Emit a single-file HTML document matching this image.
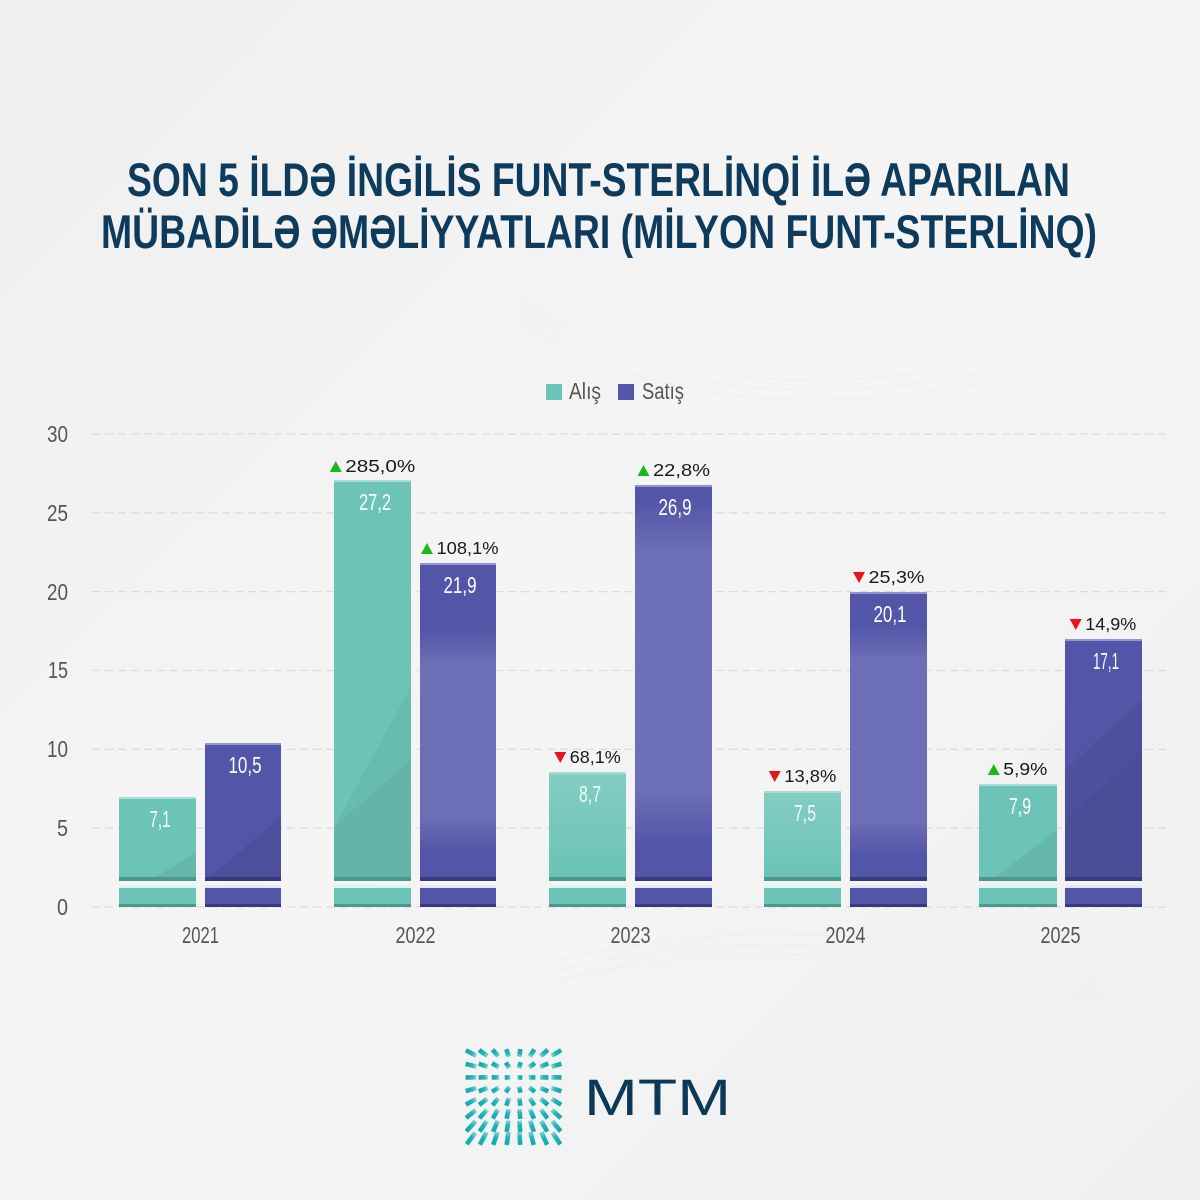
<!DOCTYPE html>
<html><head><meta charset="utf-8"><style>
html,body{margin:0;padding:0;background:#f2f2f2}
svg{display:block}
.ttl{font-family:"Liberation Sans Narrow","Liberation Sans",sans-serif;font-weight:bold;font-size:47px;fill:#0e3b5c}
.ax{font-family:"Liberation Sans Narrow","Liberation Sans",sans-serif;font-size:23px;fill:#555}
.val{font-family:"Liberation Sans Narrow","Liberation Sans",sans-serif;font-size:23px;fill:#fff;text-anchor:middle}
.pct{font-family:"Liberation Sans",sans-serif;font-size:17.5px;fill:#1a1a1a}
</style></head><body>
<svg width="1200" height="1200" viewBox="0 0 1200 1200" xmlns="http://www.w3.org/2000/svg">
<defs>
<linearGradient id="bg" x1="0" y1="0" x2="1" y2="1"><stop offset="0" stop-color="#efefef"/><stop offset="0.5" stop-color="#f5f5f5"/><stop offset="1" stop-color="#f0f0f0"/></linearGradient>
<linearGradient id="ph" x1="0" y1="0" x2="0" y2="1"><stop offset="0" stop-color="#9a9cd0" stop-opacity="0"/><stop offset="0.15" stop-color="#9a9cd0" stop-opacity="0.35"/><stop offset="0.85" stop-color="#9a9cd0" stop-opacity="0.35"/><stop offset="1" stop-color="#9a9cd0" stop-opacity="0"/></linearGradient>
<linearGradient id="pht" x1="0" y1="0" x2="0" y2="1"><stop offset="0" stop-color="#a8dcd5" stop-opacity="0.4"/><stop offset="1" stop-color="#a8dcd5" stop-opacity="0"/></linearGradient>
</defs>
<rect width="1200" height="1200" fill="url(#bg)"/>
<g stroke="#e6e8ea" stroke-width="1" fill="none" opacity="0.5">
<path d="M520 300 Q700 420 1000 360"/><path d="M520 310 Q700 430 1000 370"/><path d="M520 320 Q700 440 1000 380"/>
<path d="M560 960 Q800 900 1100 980"/><path d="M560 970 Q800 910 1100 990"/><path d="M560 980 Q800 920 1100 1000"/>
</g>

<text class="ttl" x="598.5" y="196" text-anchor="middle" textLength="943" lengthAdjust="spacingAndGlyphs">SON 5 İLDƏ İNGİLİS FUNT-STERLİNQİ İLƏ APARILAN</text>
<text class="ttl" x="599" y="248" text-anchor="middle" textLength="996" lengthAdjust="spacingAndGlyphs">MÜBADİLƏ ƏMƏLİYYATLARI (MİLYON FUNT-STERLİNQ)</text>

<rect x="546" y="384" width="16" height="16" fill="#6cc3b7"/>
<text class="ax" x="569" y="399" textLength="32" lengthAdjust="spacingAndGlyphs">Alış</text>
<rect x="618" y="384" width="16" height="16" fill="#5355a8"/>
<text class="ax" x="642" y="399" textLength="42" lengthAdjust="spacingAndGlyphs">Satış</text>

<g stroke="#dcdcdc" stroke-width="1.3" stroke-dasharray="8 5">
<line x1="92" y1="434" x2="1170" y2="434"/>
<line x1="92" y1="512.8" x2="1170" y2="512.8"/>
<line x1="92" y1="591.6" x2="1170" y2="591.6"/>
<line x1="92" y1="670.5" x2="1170" y2="670.5"/>
<line x1="92" y1="749.3" x2="1170" y2="749.3"/>
<line x1="92" y1="828.2" x2="1170" y2="828.2"/>
<line x1="92" y1="907" x2="1170" y2="907"/>
</g>
<text class="ax" x="68" y="442" text-anchor="end" textLength="21" lengthAdjust="spacingAndGlyphs">30</text>
<text class="ax" x="68" y="521" text-anchor="end" textLength="21" lengthAdjust="spacingAndGlyphs">25</text>
<text class="ax" x="68" y="600" text-anchor="end" textLength="21" lengthAdjust="spacingAndGlyphs">20</text>
<text class="ax" x="68" y="678" text-anchor="end" textLength="20" lengthAdjust="spacingAndGlyphs">15</text>
<text class="ax" x="68" y="757" text-anchor="end" textLength="21" lengthAdjust="spacingAndGlyphs">10</text>
<text class="ax" x="68" y="836" text-anchor="end" textLength="11" lengthAdjust="spacingAndGlyphs">5</text>
<text class="ax" x="68" y="915" text-anchor="end" textLength="11" lengthAdjust="spacingAndGlyphs">0</text>

<!-- 2021 -->
<g>
<rect x="119" y="797" width="77" height="84" fill="#6cc3b7"/>
<polygon points="150,881 196,852 196,881" fill="#000" opacity="0.06"/>
<rect x="119" y="797" width="77" height="2" fill="#a6ddd5"/>
<rect x="119" y="877" width="77" height="4" fill="#4d978c"/>
<rect x="119" y="885" width="77" height="22" fill="#6cc3b7"/>
<rect x="119" y="885" width="77" height="3" fill="#e4f2f0"/>
<rect x="119" y="904" width="77" height="3" fill="#4d978c"/>
<rect x="205" y="743" width="76" height="138" fill="#5355a8"/>
<polygon points="205,881 281,817 281,881" fill="#000" opacity="0.07"/>
<rect x="205" y="743" width="76" height="2" fill="#9294d0"/>
<rect x="205" y="877" width="76" height="4" fill="#383a7c"/>
<rect x="205" y="885" width="76" height="22" fill="#5355a8"/>
<rect x="205" y="885" width="76" height="3" fill="#e6e6f4"/>
<rect x="205" y="904" width="76" height="3" fill="#383a7c"/>
</g>
<!-- 2022 -->
<g>
<rect x="334" y="480" width="77" height="401" fill="#6cc3b7"/>
<polygon points="334,881 334,827 411,687 411,881" fill="#000" opacity="0.04"/>
<polygon points="334,881 334,827 411,760 411,881" fill="#000" opacity="0.03"/>
<rect x="334" y="480" width="77" height="2" fill="#a6ddd5"/>
<rect x="334" y="877" width="77" height="4" fill="#4d978c"/>
<rect x="334" y="885" width="77" height="22" fill="#6cc3b7"/>
<rect x="334" y="885" width="77" height="3" fill="#e4f2f0"/>
<rect x="334" y="904" width="77" height="3" fill="#4d978c"/>
<rect x="420" y="563" width="76" height="318" fill="#5355a8"/>
<rect x="420" y="630" width="76" height="220" fill="url(#ph)"/>
<rect x="420" y="563" width="76" height="2" fill="#9294d0"/>
<rect x="420" y="877" width="76" height="4" fill="#383a7c"/>
<rect x="420" y="885" width="76" height="22" fill="#5355a8"/>
<rect x="420" y="885" width="76" height="3" fill="#e6e6f4"/>
<rect x="420" y="904" width="76" height="3" fill="#383a7c"/>
</g>
<!-- 2023 -->
<g>
<rect x="549" y="772" width="77" height="109" fill="#6cc3b7"/>
<rect x="549" y="772" width="77" height="100" fill="url(#pht)"/>
<rect x="549" y="772" width="77" height="2" fill="#a6ddd5"/>
<rect x="549" y="877" width="77" height="4" fill="#4d978c"/>
<rect x="549" y="885" width="77" height="22" fill="#6cc3b7"/>
<rect x="549" y="885" width="77" height="3" fill="#e4f2f0"/>
<rect x="549" y="904" width="77" height="3" fill="#4d978c"/>
<rect x="635" y="485" width="77" height="396" fill="#5355a8"/>
<rect x="635" y="500" width="77" height="345" fill="url(#ph)"/>
<rect x="635" y="485" width="77" height="2" fill="#9294d0"/>
<rect x="635" y="877" width="77" height="4" fill="#383a7c"/>
<rect x="635" y="885" width="77" height="22" fill="#5355a8"/>
<rect x="635" y="885" width="77" height="3" fill="#e6e6f4"/>
<rect x="635" y="904" width="77" height="3" fill="#383a7c"/>
</g>
<!-- 2024 -->
<g>
<rect x="764" y="791" width="77" height="90" fill="#6cc3b7"/>
<rect x="764" y="791" width="77" height="85" fill="url(#pht)"/>
<rect x="764" y="791" width="77" height="2" fill="#a6ddd5"/>
<rect x="764" y="877" width="77" height="4" fill="#4d978c"/>
<rect x="764" y="885" width="77" height="22" fill="#6cc3b7"/>
<rect x="764" y="885" width="77" height="3" fill="#e4f2f0"/>
<rect x="764" y="904" width="77" height="3" fill="#4d978c"/>
<rect x="850" y="592" width="77" height="289" fill="#5355a8"/>
<rect x="850" y="625" width="77" height="230" fill="url(#ph)"/>
<rect x="850" y="592" width="77" height="2" fill="#9294d0"/>
<rect x="850" y="877" width="77" height="4" fill="#383a7c"/>
<rect x="850" y="885" width="77" height="22" fill="#5355a8"/>
<rect x="850" y="885" width="77" height="3" fill="#e6e6f4"/>
<rect x="850" y="904" width="77" height="3" fill="#383a7c"/>
</g>
<!-- 2025 -->
<g>
<rect x="979" y="784" width="78" height="97" fill="#6cc3b7"/>
<polygon points="990,881 1057,830 1057,881" fill="#000" opacity="0.06"/>
<rect x="979" y="784" width="78" height="2" fill="#a6ddd5"/>
<rect x="979" y="877" width="78" height="4" fill="#4d978c"/>
<rect x="979" y="885" width="78" height="22" fill="#6cc3b7"/>
<rect x="979" y="885" width="78" height="3" fill="#e4f2f0"/>
<rect x="979" y="904" width="78" height="3" fill="#4d978c"/>
<rect x="1065" y="639" width="77" height="242" fill="#5355a8"/>
<polygon points="1065,881 1065,770 1142,700 1142,881" fill="#000" opacity="0.06"/>
<polygon points="1065,881 1065,820 1142,750 1142,881" fill="#000" opacity="0.03"/>
<rect x="1065" y="639" width="77" height="2" fill="#9294d0"/>
<rect x="1065" y="877" width="77" height="4" fill="#383a7c"/>
<rect x="1065" y="885" width="77" height="22" fill="#5355a8"/>
<rect x="1065" y="885" width="77" height="3" fill="#e6e6f4"/>
<rect x="1065" y="904" width="77" height="3" fill="#383a7c"/>
</g>

<text class="val" x="160" y="827" textLength="21" lengthAdjust="spacingAndGlyphs">7,1</text>
<text class="val" x="245" y="773" textLength="33" lengthAdjust="spacingAndGlyphs">10,5</text>
<text class="val" x="375" y="510" textLength="32" lengthAdjust="spacingAndGlyphs">27,2</text>
<text class="val" x="460" y="593" textLength="33" lengthAdjust="spacingAndGlyphs">21,9</text>
<text class="val" x="590" y="802" textLength="22" lengthAdjust="spacingAndGlyphs" opacity="0.92">8,7</text>
<text class="val" x="675" y="515" textLength="33" lengthAdjust="spacingAndGlyphs">26,9</text>
<text class="val" x="805" y="821" textLength="22" lengthAdjust="spacingAndGlyphs" opacity="0.92">7,5</text>
<text class="val" x="890" y="622" textLength="33" lengthAdjust="spacingAndGlyphs">20,1</text>
<text class="val" x="1020" y="814" textLength="22" lengthAdjust="spacingAndGlyphs">7,9</text>
<text class="val" x="1106" y="669" textLength="26" lengthAdjust="spacingAndGlyphs">17,1</text>

<polygon points="329.75,472 341.75,472 335.75,461" fill="#19b81b"/>
<text class="pct" x="345.25" y="472" textLength="70" lengthAdjust="spacingAndGlyphs">285,0%</text>
<polygon points="421,554 433,554 427,543" fill="#19b81b"/>
<text class="pct" x="436.5" y="554" textLength="62" lengthAdjust="spacingAndGlyphs">108,1%</text>
<polygon points="554.25,752 566.25,752 560.25,763" fill="#e8141b"/>
<text class="pct" x="569.75" y="763" textLength="51" lengthAdjust="spacingAndGlyphs">68,1%</text>
<polygon points="637.5,476 649.5,476 643.5,465" fill="#19b81b"/>
<text class="pct" x="653" y="476" textLength="57" lengthAdjust="spacingAndGlyphs">22,8%</text>
<polygon points="768.75,771 780.75,771 774.75,782" fill="#e8141b"/>
<text class="pct" x="784.25" y="782" textLength="52" lengthAdjust="spacingAndGlyphs">13,8%</text>
<polygon points="853,572 865,572 859,583" fill="#e8141b"/>
<text class="pct" x="868.5" y="583" textLength="56" lengthAdjust="spacingAndGlyphs">25,3%</text>
<polygon points="987.75,775 999.75,775 993.75,764" fill="#19b81b"/>
<text class="pct" x="1003.25" y="775" textLength="44" lengthAdjust="spacingAndGlyphs">5,9%</text>
<polygon points="1069.75,619 1081.75,619 1075.75,630" fill="#e8141b"/>
<text class="pct" x="1085.25" y="630" textLength="51" lengthAdjust="spacingAndGlyphs">14,9%</text>

<text class="ax" x="200.5" y="943" text-anchor="middle" textLength="37" lengthAdjust="spacingAndGlyphs">2021</text>
<text class="ax" x="415.5" y="943" text-anchor="middle" textLength="40" lengthAdjust="spacingAndGlyphs">2022</text>
<text class="ax" x="630.5" y="943" text-anchor="middle" textLength="40" lengthAdjust="spacingAndGlyphs">2023</text>
<text class="ax" x="845.5" y="943" text-anchor="middle" textLength="40" lengthAdjust="spacingAndGlyphs">2024</text>
<text class="ax" x="1060.5" y="943" text-anchor="middle" textLength="40" lengthAdjust="spacingAndGlyphs">2025</text>

<g id="logo"></g>
<text x="584" y="1115" font-family="Liberation Sans, sans-serif" font-size="51" fill="#0c3958" textLength="147" lengthAdjust="spacingAndGlyphs">MTM</text>
</svg>
<script>
(function(){
var g=document.getElementById('logo');var ns='http://www.w3.org/2000/svg';
var defs=document.createElementNS(ns,'defs');g.appendChild(defs);
var fx=516,fy=1077,n=0;
for(var j=0;j<8;j++){for(var i=0;i<8;i++){
var cx=471+12.2*i,cy=1053+12.2*j;var dx=cx-fx,dy=cy-fy;var d=Math.sqrt(dx*dx+dy*dy);
var ux,uy;if(d<0.5){ux=1;uy=0;}else{ux=dx/d;uy=dy/d;}
var L=4.5+Math.min(d,70)*0.14;
var x1=cx-ux*L/2,y1=cy-uy*L/2,x2=cx+ux*L/2,y2=cy+uy*L/2;
var id='lg'+(n++);
var lg=document.createElementNS(ns,'linearGradient');lg.setAttribute('id',id);lg.setAttribute('gradientUnits','userSpaceOnUse');
lg.setAttribute('x1',x1);lg.setAttribute('y1',y1);lg.setAttribute('x2',x2);lg.setAttribute('y2',y2);
var s1=document.createElementNS(ns,'stop');s1.setAttribute('offset','0');s1.setAttribute('stop-color','#8fd6d8');
var s2=document.createElementNS(ns,'stop');s2.setAttribute('offset','0.4');s2.setAttribute('stop-color','#22b5ba');
var s3=document.createElementNS(ns,'stop');s3.setAttribute('offset','1');s3.setAttribute('stop-color','#12a8af');
lg.appendChild(s1);lg.appendChild(s2);lg.appendChild(s3);defs.appendChild(lg);
var ln=document.createElementNS(ns,'line');ln.setAttribute('x1',x1);ln.setAttribute('y1',y1);ln.setAttribute('x2',x2);ln.setAttribute('y2',y2);
ln.setAttribute('stroke','url(#'+id+')');ln.setAttribute('stroke-width','4.6');
g.appendChild(ln);
}}
})();
</script>
</body></html>
